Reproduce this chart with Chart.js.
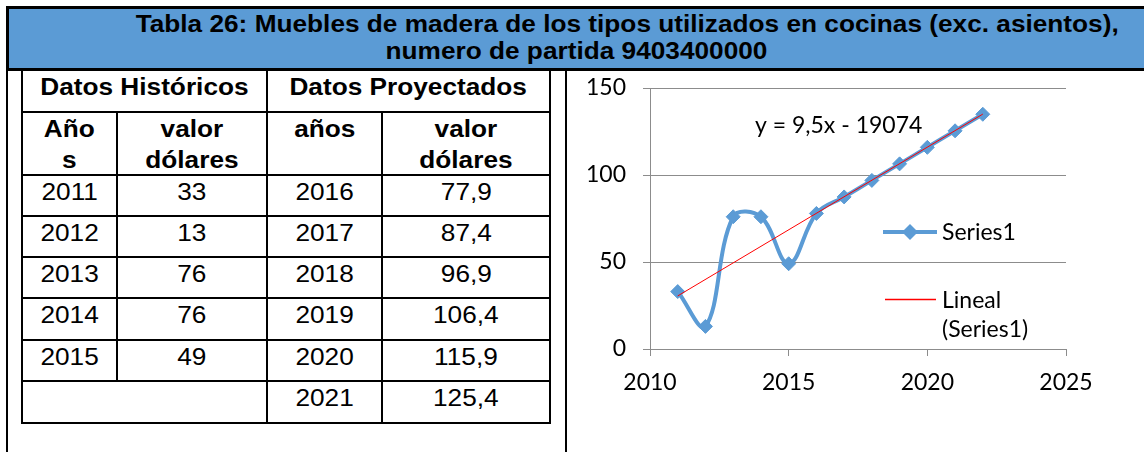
<!DOCTYPE html>
<html>
<head>
<meta charset="utf-8">
<script src="https://cdn.jsdelivr.net/npm/chart.js@4.4.0/dist/chart.umd.min.js"></script>
<style>
    html, body { margin: 0; padding: 0; background: #fff; overflow: hidden; }
    body { width: 1144px; height: 452px; position: relative; font-family: "Liberation Sans", Arial, sans-serif; }
    #banner {
        position: absolute; left: 6px; top: 6px; width: 1300px; height: 59px;
        background: #5b9bd5; border: 3px solid #000; border-right: none;
    }
    .tline { position: absolute; left: -6px; text-align: center; font-weight: bold; font-size: 23px; line-height: 27px; color: #000; white-space: nowrap; }
    .sx { display: inline-block; transform: scaleX(1.14); transform-origin: center; }
    .vline { position: absolute; top: 70px; width: 2px; height: 390px; background: #000; }
    .cell {
        position: absolute; box-sizing: border-box; border: 2px solid #000;
        text-align: center; font-size: 23px; line-height: 26px; padding-top: 3px; color: #000;
    }
    .cell.bold { font-weight: bold; }
    .cell.hdr2 { line-height: 31px; padding-top: 1px; }
    #chartBox { position: absolute; left: 568px; top: 70px; width: 576px; height: 382px; }
</style>
</head>
<body>
<div id="banner"></div>
<div class="tline" style="top:11px; width:1266px;"><span class="sx">Tabla 26: Muebles de madera de los tipos utilizados en cocinas (exc. asientos),</span></div>
<div class="tline" style="top:38px; width:1164px;"><span class="sx">numero de partida 9403400000</span></div>
<div class="vline" style="left:6px;"></div>
<div class="vline" style="left:565px;"></div>
<div id="table"></div>
<div id="chartBox"><canvas id="trendChart" width="576" height="382"></canvas></div>

<script>
// table data
const histYears = [2011, 2012, 2013, 2014, 2015];
const histValues = [33, 13, 76, 76, 49];
const projYears = [2016, 2017, 2018, 2019, 2020, 2021];
const projValues = [77.9, 87.4, 96.9, 106.4, 115.9, 125.4];

// chart data
const seriesYears = [2011, 2012, 2013, 2014, 2015, 2016, 2017, 2018, 2019, 2020, 2021, 2022];
const seriesValues = [33, 13, 76, 76, 49, 77.9, 87.4, 96.9, 106.4, 115.9, 125.4, 134.9];
const trendYears = [2011, 2022];
const trendValues = [30.5, 135];
const trendLabel = 'y = 9,5x - 19074';
const xTicks = [2010, 2015, 2020, 2025];
const yTicks = [0, 50, 100, 150];

const BLUE = '#5b9bd5';

function fmt(v) {
    return String(v).replace('.', ',');
}

// table grid lines (centres)
const colX = [22, 117, 267, 382, 550];
const rowY = [70, 112, 175, 216, 257, 298, 340, 381, 423];

function addCell(x0, x1, y0, y1, html, cls) {
    const d = document.createElement('div');
    d.className = 'cell ' + (cls || '');
    d.style.left = (x0 - 1) + 'px';
    d.style.top = (y0 - 1) + 'px';
    d.style.width = (x1 - x0 + 2) + 'px';
    d.style.height = (y1 - y0 + 2) + 'px';
    if (html) d.innerHTML = '<span class="sx">' + html + '</span>';
    document.getElementById('table').appendChild(d);
}

function buildTable() {
    addCell(colX[0], colX[2], rowY[0], rowY[1], 'Datos Históricos', 'bold');
    addCell(colX[2], colX[4], rowY[0], rowY[1], 'Datos Proyectados', 'bold');
    addCell(colX[0], colX[1], rowY[1], rowY[2], 'Año<br>s', 'bold hdr2');
    addCell(colX[1], colX[2], rowY[1], rowY[2], 'valor<br>dólares', 'bold hdr2');
    addCell(colX[2], colX[3], rowY[1], rowY[2], 'años', 'bold hdr2');
    addCell(colX[3], colX[4], rowY[1], rowY[2], 'valor<br>dólares', 'bold hdr2');
    for (let i = 0; i < projYears.length; i++) {
        const y0 = rowY[i + 2], y1 = rowY[i + 3];
        if (i < histYears.length) {
            addCell(colX[0], colX[1], y0, y1, String(histYears[i]));
            addCell(colX[1], colX[2], y0, y1, fmt(histValues[i]));
        } else {
            addCell(colX[0], colX[2], y0, y1, '');
        }
        addCell(colX[2], colX[3], y0, y1, String(projYears[i]));
        addCell(colX[3], colX[4], y0, y1, fmt(projValues[i]));
    }
}

// equation + legend drawn inside the plot, like the spreadsheet chart
const overlayPlugin = {
    id: 'overlay',
    afterDraw(chart) {
        const ctx = chart.ctx;
        ctx.save();
        ctx.font = '23px Lato';
        ctx.fillStyle = '#000';
        ctx.textBaseline = 'alphabetic';
        ctx.textAlign = 'left';
        ctx.fillText(trendLabel, 187, 63);

        // Series1 entry
        ctx.strokeStyle = BLUE;
        ctx.lineWidth = 4;
        ctx.beginPath();
        ctx.moveTo(315, 162);
        ctx.lineTo(369, 162);
        ctx.stroke();
        ctx.fillStyle = BLUE;
        ctx.beginPath();
        ctx.moveTo(342, 154);
        ctx.lineTo(350, 162);
        ctx.lineTo(342, 170);
        ctx.lineTo(334, 162);
        ctx.closePath();
        ctx.fill();
        ctx.fillStyle = '#000';
        ctx.fillText('Series1', 374, 170);

        // trend entry
        ctx.strokeStyle = '#ff0000';
        ctx.lineWidth = 1.4;
        ctx.beginPath();
        ctx.moveTo(317, 229.5);
        ctx.lineTo(368, 229.5);
        ctx.stroke();
        ctx.fillText('Lineal', 374, 238);
        ctx.fillText('(Series1)', 374, 267);
        ctx.restore();
    }
};

function createChart() {
    const ctx = document.getElementById('trendChart').getContext('2d');
    new Chart(ctx, {
        type: 'scatter',
        data: {
            datasets: [{
                label: 'Lineal (Series1)',
                data: trendYears.map((x, i) => ({ x: x, y: trendValues[i] })),
                showLine: true,
                borderColor: '#ff0000',
                borderWidth: 1,
                pointRadius: 0,
                order: 0
            }, {
                label: 'Series1',
                data: seriesYears.map((x, i) => ({ x: x, y: seriesValues[i] })),
                showLine: true,
                borderColor: BLUE,
                backgroundColor: BLUE,
                borderWidth: 4,
                tension: 0.38,
                pointStyle: 'rectRot',
                pointRadius: 7,
                pointBorderWidth: 1,
                pointBorderColor: BLUE,
                pointBackgroundColor: BLUE,
                order: 1
            }]
        },
        options: {
            responsive: false,
            animation: false,
            layout: { padding: { left: 0, top: 18, right: 78, bottom: 0 } },
            scales: {
                x: {
                    type: 'linear',
                    min: 2010,
                    max: 2025,
                    afterFit: (scale) => { scale.height = 103; },
                    afterBuildTicks: (scale) => { scale.ticks = xTicks.map(v => ({ value: v })); },
                    grid: { drawOnChartArea: false, drawTicks: true, tickLength: 7, color: '#8c8c8c' },
                    border: { color: '#8c8c8c', width: 1 },
                    ticks: {
                        color: '#000', font: { family: 'Lato', size: 23 }, padding: 13, maxRotation: 0,
                        callback: (value) => String(value)
                    }
                },
                y: {
                    min: 0,
                    max: 150,
                    afterFit: (scale) => {
                        scale.width = 82;
                        // the label gap must not push the plot top down
                        scale.paddingTop = 0;
                        scale.paddingBottom = 0;
                    },
                    afterBuildTicks: (scale) => { scale.ticks = yTicks.map(v => ({ value: v })); },
                    grid: { color: '#8c8c8c', drawTicks: true, tickLength: 7 },
                    border: { color: '#8c8c8c', width: 1 },
                    ticks: { color: '#000', font: { family: 'Lato', size: 23 }, padding: 17 }
                }
            },
            plugins: {
                legend: { display: false },
                tooltip: { enabled: false }
            }
        },
        plugins: [overlayPlugin]
    });
}

buildTable();
createChart();
</script>
</body>
</html>
